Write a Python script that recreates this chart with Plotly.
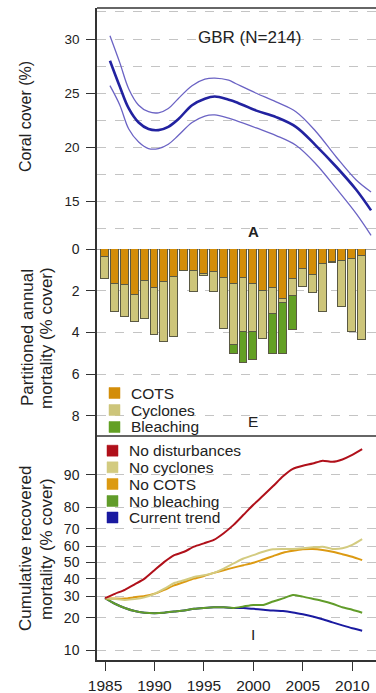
import numpy as np
import plotly.graph_objects as go

# ---------------- data ----------------
# Panel A: coral cover smooth trend with confidence band
top_years = [1985.5, 1986.5, 1987.4, 1988.4, 1989.4, 1990.4, 1991.4, 1992.4, 1993.8, 1995.1,
             1996.1, 1997.5, 1998.2, 2000.3, 2002.3, 2004.3, 2006.3, 2008.4, 2010.4, 2011.9]
cover_mean = [28.0, 25.6, 23.6, 22.3, 21.7, 21.6, 21.9, 22.6, 23.9, 24.5,
              24.7, 24.4, 24.2, 23.4, 22.8, 21.9, 20.2, 18.2, 16.1, 14.2]
cover_upper = [30.3, 27.8, 25.4, 23.9, 23.3, 23.2, 23.6, 24.5, 25.7, 26.3,
               26.4, 26.2, 25.9, 25.0, 24.2, 23.3, 21.5, 19.1, 17.0, 15.9]
cover_lower = [25.7, 23.9, 21.7, 20.5, 19.9, 19.9, 20.3, 21.1, 22.3, 22.9,
               23.0, 22.7, 22.5, 21.8, 21.1, 20.2, 18.5, 16.2, 13.9, 11.9]

# Panel E: partitioned annual mortality (% cover)
bar_years = list(range(1985, 2012))
mort_cots = [0.37, 1.70, 1.72, 2.22, 1.53, 1.85, 1.60, 1.33, 1.04, 1.04, 1.20, 1.09, 1.37, 1.70,
             1.40, 1.70, 2.01, 1.85, 2.41, 1.42, 0.96, 1.24, 0.73, 0.64, 0.57, 0.49, 0.35]
mort_cyclones = [1.08, 1.30, 1.56, 1.28, 1.82, 2.27, 2.84, 2.90, 0.02, 1.00, 0.09, 0.99, 2.48, 2.92,
                 2.60, 2.30, 2.30, 1.27, 0.16, 0.83, 0.88, 0.86, 2.27, 0.05, 2.23, 3.51, 4.00]
mort_bleaching = [0, 0, 0, 0, 0, 0, 0, 0, 0, 0, 0, 0, 0, 0.41,
                  1.48, 1.32, 0, 1.91, 2.46, 1.63, 0, 0, 0, 0, 0, 0, 0]
mort_names = ["COTS", "Cyclones", "Bleaching"]

# Panel I: cumulative recovered mortality (% cover)
cum_years = list(range(1985, 2012))
no_disturbances = [29.0, 31.3, 33.5, 36.6, 40.0, 45.2, 50.4, 54.6, 56.7, 59.8, 61.8, 63.8, 67.6, 72.0,
                   76.8, 81.0, 84.3, 87.2, 89.7, 91.3, 91.9, 92.3, 92.8, 92.6, 93.0, 93.7, 94.5]
no_cyclones = [29.0, 28.6, 28.1, 28.5, 29.4, 31.3, 34.1, 37.4, 39.0, 41.0, 42.0, 43.5, 46.2, 49.4,
               52.5, 54.6, 56.7, 58.2, 58.4, 58.4, 58.8, 59.4, 59.8, 58.4, 58.8, 60.9, 64.3]
no_cots = [29.0, 28.8, 28.8, 29.5, 30.1, 31.3, 33.5, 36.0, 38.0, 40.0, 41.6, 43.5, 45.2, 46.8,
           48.3, 49.8, 51.9, 54.0, 56.1, 57.3, 58.2, 58.4, 57.8, 56.7, 55.2, 53.6, 51.5]
no_bleaching = [29.0, 26.2, 24.2, 22.8, 22.1, 21.9, 22.1, 22.6, 23.1, 23.8, 24.2, 24.5, 24.5, 24.2,
                24.9, 25.6, 25.6, 27.3, 28.9, 30.7, 29.8, 28.7, 27.6, 26.2, 24.5, 23.4, 22.1]
current_trend = [29.0, 26.2, 24.2, 22.8, 22.1, 21.9, 22.1, 22.6, 23.1, 23.8, 24.2, 24.5, 24.5, 24.2,
                 24.2, 23.8, 23.4, 23.0, 22.8, 22.2, 21.4, 20.5, 19.4, 18.2, 17.1, 16.1, 15.3]
cum_names = ["No disturbances", "No cyclones", "No COTS", "No bleaching", "Current trend"]

x_ticks = [1985, 1990, 1995, 2000, 2005, 2010]
top_ticks = [15, 20, 25, 30]
top_minor = [12.5, 17.5, 22.5, 27.5, 32.5]
mid_ticks = [0, 2, 4, 6, 8]
bot_ticks = [10, 20, 30, 40, 50, 60, 70, 80, 90]

# ---------------- styles ----------------
FONT = "Liberation Sans, Arial, Helvetica, sans-serif"
TXT = "#222222"
GRID = "#c4c4c4"
AX = "#333333"
c_cots, c_cyc, c_bleach = "#D38D08", "#CDC57A", "#63A024"
bar_edge = "#5a5943"
c_cum = ["#B0101A", "#D3CB80", "#DC9A12", "#619C2A", "#1A1AA0"]

W, H = 376, 693
L, R, T, B = 97, 0, 8, 33
PW, PH = W - L - R, H - T - B


def px(xp):
    return (xp - L) / PW


def py(yp):
    return (H - B - yp) / PH


def logit(p):
    p = np.asarray(p, dtype=float) / 100.0
    return np.log(p / (1 - p))


d_bot = py(436)
d_mid = py(249)

fig = go.Figure()

# ---- Panel A ----
for yv, w, col in [(cover_upper, 1.3, "#6B63C4"), (cover_lower, 1.3, "#6B63C4"), (cover_mean, 2.6, "#2222A0")]:
    fig.add_trace(go.Scatter(x=top_years, y=yv, mode="lines", line=dict(color=col, width=w, shape="spline", smoothing=1.0),
                             xaxis="x", yaxis="y", showlegend=False, hoverinfo="skip"))

# ---- Panel E ----
for vals, col, nm in [(mort_cots, c_cots, mort_names[0]), (mort_cyclones, c_cyc, mort_names[1]),
                      (mort_bleaching, c_bleach, mort_names[2])]:
    fig.add_trace(go.Bar(x=bar_years, y=vals, width=0.8, name=nm, marker=dict(color=col, line=dict(color=bar_edge, width=1)),
                         xaxis="x", yaxis="y2", showlegend=False))

# ---- Panel I ----
order = [4, 3, 2, 1, 0]
series = [no_disturbances, no_cyclones, no_cots, no_bleaching, current_trend]
for i in order:
    fig.add_trace(go.Scatter(x=cum_years, y=logit(series[i]), mode="lines", name=cum_names[i],
                             line=dict(color=c_cum[i], width=2, shape="spline", smoothing=0.6),
                             xaxis="x", yaxis="y3", showlegend=False))

axis_common = dict(showline=True, linecolor=AX, linewidth=1.5, ticks="outside", ticklen=9, tickcolor=AX,
                   tickwidth=1, tickfont=dict(family=FONT, size=14, color=TXT), zeroline=False,
                   gridcolor=GRID, griddash="dash", gridwidth=1, anchor="x", ticklabelstandoff=4,
                   automargin=False)

fig.update_layout(
    template="none",
    width=W, height=H, margin=dict(l=L, r=R, t=T, b=B, pad=0), autosize=False,
    paper_bgcolor="white", plot_bgcolor="white", barmode="stack", bargap=0,
    font=dict(family=FONT, color=TXT),
    xaxis=dict(domain=[0, 1], range=[1984.19, 2012.4], tickvals=x_ticks, ticks="outside", ticklen=9,
               tickcolor=AX, tickwidth=1, showline=True, linecolor=AX, linewidth=1.5, showgrid=False, zeroline=False,
               anchor="y3", tickfont=dict(family=FONT, size=15.5, color=TXT), ticklabelstandoff=2,
               automargin=False),
    yaxis=dict(domain=[d_mid, 1], range=[10.64, 32.86], tickvals=top_ticks, showgrid=True,
               minor=dict(tickvals=top_minor, showgrid=True, gridcolor=GRID, griddash="dash", gridwidth=1,
                          ticks=""),
               **{**axis_common, "tickfont": dict(family=FONT, size=13.5, color=TXT)}),
    yaxis2=dict(domain=[d_bot, d_mid], range=[8.96, 0], tickvals=mid_ticks, showgrid=True,
                **axis_common),
    yaxis3=dict(domain=[0, d_bot], range=[-2.448, 3.176], tickvals=list(logit(bot_ticks)),
                ticktext=[str(t) for t in bot_ticks], showgrid=True, **axis_common),
)

shapes = [
    dict(type="line", xref="paper", yref="paper", x0=0, x1=1, y0=1, y1=1, line=dict(color=AX, width=1.5)),
    dict(type="line", xref="paper", yref="paper", x0=0, x1=1, y0=d_bot, y1=d_bot, line=dict(color=AX, width=1.5)),
    dict(type="line", xref="paper", yref="y2", x0=0, x1=1, y0=0, y1=0, line=dict(color="#8a8a8a", width=1.5),
         layer="below"),
]
annotations = []

# legends (manual, to match compact spacing)
leg1_cols = [c_cots, c_cyc, c_bleach]
leg1_y = [393, 410, 427]
for nm, col, yy in zip(mort_names, leg1_cols, leg1_y):
    shapes.append(dict(type="rect", xref="paper", yref="paper", x0=px(109), x1=px(120), y0=py(yy + 5.5), y1=py(yy - 5.5),
                       fillcolor=col, line=dict(color=col, width=0.5)))
    annotations.append(dict(text=nm, xref="paper", yref="paper", x=px(129), y=py(yy), xanchor="left", yanchor="middle",
                            showarrow=False, font=dict(family=FONT, size=15.5, color=TXT)))
leg2_y = [450.7, 467.3, 484, 501, 517.5]
for nm, col, yy in zip(cum_names, c_cum, leg2_y):
    shapes.append(dict(type="rect", xref="paper", yref="paper", x0=px(107), x1=px(118), y0=py(yy + 5.5), y1=py(yy - 5.5),
                       fillcolor=col, line=dict(color=col, width=0.5)))
    annotations.append(dict(text=nm, xref="paper", yref="paper", x=px(127), y=py(yy), xanchor="left", yanchor="middle",
                            showarrow=False, font=dict(family=FONT, size=15.5, color=TXT)))

# titles & labels
annotations += [
    dict(text="GBR (N=214)", xref="paper", yref="paper", x=px(249), y=py(26), showarrow=False,
         font=dict(family=FONT, size=17, color=TXT)),
    dict(text="<b>A</b>", xref="x", yref="paper", x=2000, y=py(231), showarrow=False,
         font=dict(family=FONT, size=15, color=TXT)),
    dict(text="E", xref="x", yref="paper", x=2000, y=py(421), showarrow=False,
         font=dict(family=FONT, size=15.5, color=TXT)),
    dict(text="I", xref="x", yref="paper", x=2000, y=py(645), showarrow=False,
         font=dict(family=FONT, size=15.5, color=TXT)),
    dict(text="Coral cover (%)", xref="paper", yref="paper", x=px(25), y=py(117), textangle=-90, showarrow=False,
         xanchor="center", yanchor="middle", font=dict(family=FONT, size=16, color=TXT)),
    dict(text="Partitioned annual", xref="paper", yref="paper", x=px(27), y=py(338), textangle=-90, showarrow=False,
         xanchor="center", yanchor="middle", font=dict(family=FONT, size=17, color=TXT)),
    dict(text="mortality (% cover)", xref="paper", yref="paper", x=px(46), y=py(338), textangle=-90, showarrow=False,
         xanchor="center", yanchor="middle", font=dict(family=FONT, size=17, color=TXT)),
    dict(text="Cumulative recovered", xref="paper", yref="paper", x=px(25), y=py(549), textangle=-90, showarrow=False,
         xanchor="center", yanchor="middle", font=dict(family=FONT, size=17, color=TXT)),
    dict(text="mortality (% cover)", xref="paper", yref="paper", x=px(46), y=py(549), textangle=-90, showarrow=False,
         xanchor="center", yanchor="middle", font=dict(family=FONT, size=17, color=TXT)),
]
fig.update_layout(shapes=shapes, annotations=annotations)

fig.write_html("out.html", config={"displayModeBar": False},
               post_script="document.body.style.margin='0px';document.body.style.padding='0px';")
